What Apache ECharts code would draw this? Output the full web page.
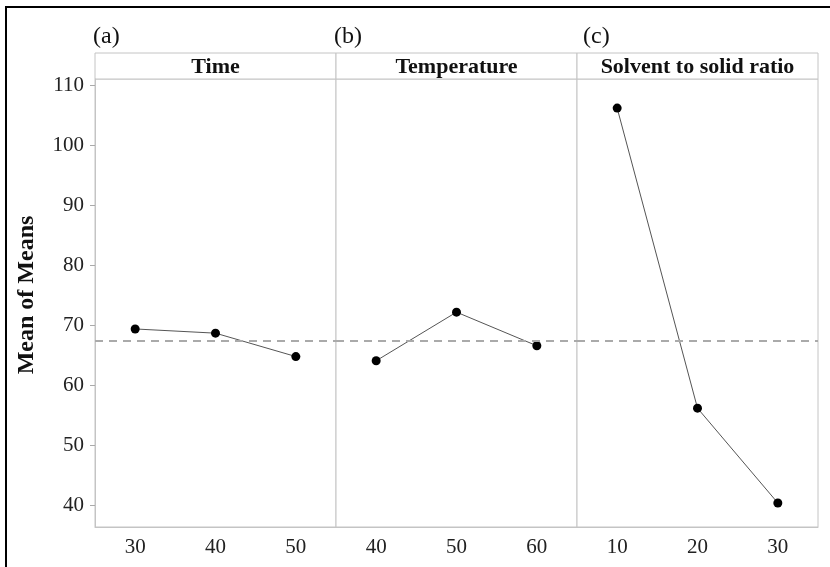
<!DOCTYPE html>
<html>
<head>
<meta charset="utf-8">
<script src="https://cdn.jsdelivr.net/npm/echarts@6/dist/echarts.min.js"></script>
<style>
  html, body { margin: 0; padding: 0; background: #fff; }
  #chart { width: 830px; height: 567px; }
</style>
</head>
<body>
<div id="chart"></div>
<script>
// values
const panelTitles = ['Time', 'Temperature', 'Solvent to solid ratio'];
const panelTags = ['(a)', '(b)', '(c)'];
const timeLevels = ['30', '40', '50'];
const timeMeans = [69.4, 68.7, 64.8];
const tempLevels = ['40', '50', '60'];
const tempMeans = [64.1, 72.2, 66.6];
const ratioLevels = ['10', '20', '30'];
const ratioMeans = [106.2, 56.2, 40.4];
const grandMean = 67.4;
const yTicks = [40, 50, 60, 70, 80, 90, 100, 110];

const levels = [timeLevels, tempLevels, ratioLevels];
const means = [timeMeans, tempMeans, ratioMeans];

// layout
const L = 95, R = 818, stripTop = 53, plotTop = 79, plotBottom = 527;
const panelW = (R - L) / 3;
const gridCol = '#c4c4c4';
const serif = '"Liberation Serif", "DejaVu Serif", serif';

const myChart = echarts.init(document.getElementById('chart'));

const grid = [], xAxis = [], yAxis = [], series = [], graphic = [];

for (let i = 0; i < 3; i++) {
  grid.push({
    left: L + i * panelW, top: plotTop, width: panelW, height: plotBottom - plotTop,
    show: true, borderColor: gridCol, borderWidth: 1, backgroundColor: '#fff'
  });
  xAxis.push({
    type: 'category', gridIndex: i, data: levels[i], boundaryGap: true,
    axisLine: { lineStyle: { color: gridCol, width: 1 } },
    axisTick: { alignWithLabel: true, length: 5, lineStyle: { color: '#aaa' } },
    axisLabel: { color: '#222', fontFamily: serif, fontSize: 21, margin: 10 },
    splitLine: { show: false }
  });
  yAxis.push({
    type: 'value', gridIndex: i, min: 36.4, max: 111.05,
    show: i === 0,
    name: i === 0 ? 'Mean of Means' : '',
    nameLocation: 'middle', nameGap: 56,
    nameTextStyle: { fontFamily: serif, fontSize: 24, fontWeight: 'bold', color: '#111', padding: [0, 0, 0, 16] },
    axisLine: { show: true, lineStyle: { color: gridCol } },
    axisTick: { show: true, length: 5, lineStyle: { color: '#aaa' }, customValues: yTicks },
    axisLabel: { color: '#222', fontFamily: serif, fontSize: 21, margin: 11, customValues: yTicks },
    splitLine: { show: false }
  });
  series.push({
    type: 'line', xAxisIndex: i, yAxisIndex: i, data: means[i],
    symbol: 'circle', symbolSize: 9,
    itemStyle: { color: '#000' },
    lineStyle: { color: '#555', width: 1 },
    markLine: {
      silent: true, symbol: 'none', label: { show: false },
      lineStyle: { color: '#aaa', type: [8, 6], width: 2 },
      data: [{ yAxis: grandMean }]
    },
    z: 3
  });
  // strip header box
  graphic.push({
    type: 'rect',
    shape: { x: L + i * panelW, y: stripTop, width: panelW, height: plotTop - stripTop },
    style: { fill: '#fff', stroke: gridCol, lineWidth: 1 }
  });
  graphic.push({
    type: 'text',
    x: L + i * panelW + panelW / 2, y: (stripTop + plotTop) / 2 + 1,
    style: {
      text: panelTitles[i], fill: '#111', font: 'bold 22px ' + serif,
      textAlign: 'center', textVerticalAlign: 'middle'
    }
  });
  graphic.push({
    type: 'text',
    x: L + i * panelW - 2 + (i === 2 ? 8 : 0), y: 37,
    style: {
      text: panelTags[i], fill: '#111', font: '24px ' + serif,
      textAlign: 'left', textVerticalAlign: 'middle'
    }
  });
}

// outer frame lines (top and left)
graphic.push({ type: 'line', shape: { x1: 5, y1: 7, x2: 830, y2: 7 }, style: { stroke: '#000', lineWidth: 2 } });
graphic.push({ type: 'line', shape: { x1: 6, y1: 7, x2: 6, y2: 567 }, style: { stroke: '#000', lineWidth: 2 } });

const option = {
  backgroundColor: '#fff',
  animation: false,
  grid, xAxis, yAxis, series, graphic
};

myChart.setOption(option);
</script>
</body>
</html>
